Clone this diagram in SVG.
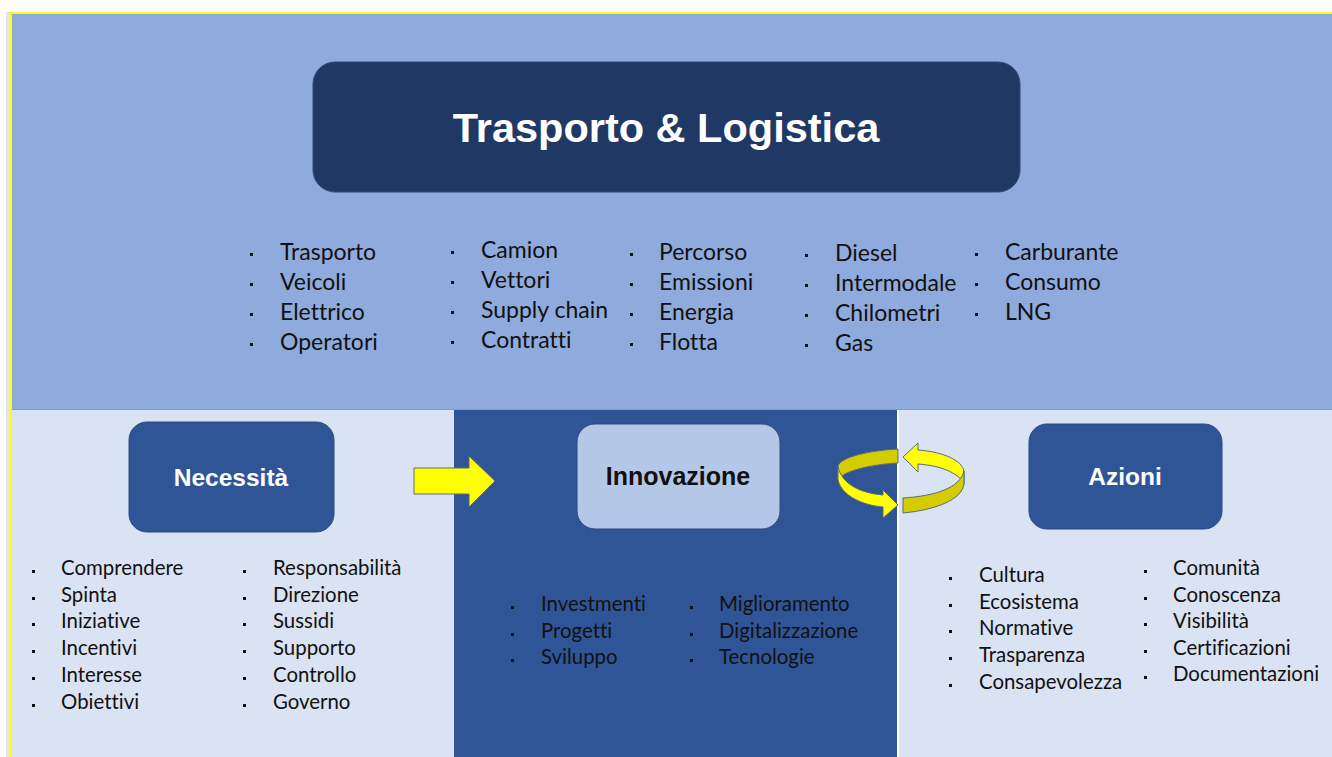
<svg xmlns="http://www.w3.org/2000/svg" width="1332" height="757" viewBox="0 0 1332 757">
<style>
.li{font-family:Lato,"Liberation Sans",sans-serif;font-size:20.4px;fill:#111;font-variant-ligatures:none}
.lt{font-family:Lato,"Liberation Sans",sans-serif;font-size:23px;fill:#111;font-variant-ligatures:none}
.hd{font-family:"Liberation Sans",Arial,sans-serif;font-weight:bold;text-anchor:middle}
.bx{stroke:#2a4a80;stroke-width:1}
.yb{fill:#ffff00;stroke:#5a6a7a;stroke-width:1}
.yd{fill:#d4cc00;stroke:#5a6a7a;stroke-width:1}
</style>
<defs>
<rect id="b" width="3" height="3" fill="#111"/>
</defs>
<rect width="1332" height="757" fill="#ffffff"/>
<rect x="6" y="12" width="4" height="745" fill="#e6e6e6"/>
<rect x="10" y="14" width="1322" height="396" fill="#8faadc"/>
<rect x="10" y="409" width="1322" height="1" fill="#7f9bd0"/>
<rect x="10" y="410" width="1322" height="347" fill="#dae3f3"/>
<rect x="454" y="410" width="444" height="347" fill="#2f5597"/>
<rect x="897" y="410" width="2" height="347" fill="#ffffff"/>
<rect x="10" y="12" width="1322" height="2" fill="#ffff00"/>
<rect x="10" y="12" width="2" height="745" fill="#ffff00"/>

<g id="title">
<rect x="313" y="62" width="707" height="130" rx="22" fill="#203864" stroke="#2a4a80"/>
<text class="hd" x="666" y="142" font-size="41.5" fill="#ffffff">Trasporto &amp; Logistica</text>
</g>

<g id="top-list">
<use href="#b" x="250" y="253"/><use href="#b" x="250" y="283"/><use href="#b" x="250" y="313"/><use href="#b" x="250" y="343"/>
<text class="lt" x="280" y="260">Trasporto</text><text class="lt" x="280" y="290">Veicoli</text><text class="lt" x="280" y="320">Elettrico</text><text class="lt" x="280" y="350">Operatori</text>
<use href="#b" x="451" y="251"/><use href="#b" x="451" y="281"/><use href="#b" x="451" y="311"/><use href="#b" x="451" y="341"/>
<text class="lt" x="481" y="258">Camion</text><text class="lt" x="481" y="288">Vettori</text><text class="lt" x="481" y="318">Supply chain</text><text class="lt" x="481" y="348">Contratti</text>
<use href="#b" x="630" y="253"/><use href="#b" x="630" y="283"/><use href="#b" x="630" y="313"/><use href="#b" x="630" y="343"/>
<text class="lt" x="659" y="260">Percorso</text><text class="lt" x="659" y="290">Emissioni</text><text class="lt" x="659" y="320">Energia</text><text class="lt" x="659" y="350">Flotta</text>
<use href="#b" x="805" y="254"/><use href="#b" x="805" y="284"/><use href="#b" x="805" y="314"/><use href="#b" x="805" y="344"/>
<text class="lt" x="835" y="261">Diesel</text><text class="lt" x="835" y="291">Intermodale</text><text class="lt" x="835" y="321">Chilometri</text><text class="lt" x="835" y="351">Gas</text>
<use href="#b" x="975" y="253"/><use href="#b" x="975" y="283"/><use href="#b" x="975" y="313"/>
<text class="lt" x="1005" y="260">Carburante</text><text class="lt" x="1005" y="290">Consumo</text><text class="lt" x="1005" y="320">LNG</text>
</g>

<g id="necessita">
<rect class="bx" x="129" y="422" width="205" height="110" rx="18" fill="#2f5597"/>
<text class="hd" x="231" y="486" font-size="24.5" fill="#ffffff">Necessità</text>
</g>
<g id="necessita-list">
<use href="#b" x="32" y="570"/><use href="#b" x="32" y="597"/><use href="#b" x="32" y="623"/><use href="#b" x="32" y="650"/><use href="#b" x="32" y="677"/><use href="#b" x="32" y="704"/>
<text class="li" x="61" y="575">Comprendere</text><text class="li" x="61" y="602">Spinta</text><text class="li" x="61" y="628">Iniziative</text><text class="li" x="61" y="655">Incentivi</text><text class="li" x="61" y="682">Interesse</text><text class="li" x="61" y="709">Obiettivi</text>
<use href="#b" x="243" y="570"/><use href="#b" x="243" y="597"/><use href="#b" x="243" y="623"/><use href="#b" x="243" y="650"/><use href="#b" x="243" y="677"/><use href="#b" x="243" y="704"/>
<text class="li" x="273" y="575">Responsabilità</text><text class="li" x="273" y="602">Direzione</text><text class="li" x="273" y="628">Sussidi</text><text class="li" x="273" y="655">Supporto</text><text class="li" x="273" y="682">Controllo</text><text class="li" x="273" y="709">Governo</text>
</g>

<g id="innovazione">
<rect class="bx" x="577" y="424" width="203" height="105" rx="18" fill="#b4c7e7"/>
<text class="hd" x="678" y="485" font-size="25" fill="#111111">Innovazione</text>
</g>
<g id="innovazione-list">
<use href="#b" x="511" y="606"/><use href="#b" x="511" y="633"/><use href="#b" x="511" y="659"/>
<text class="li" x="541" y="611">Investmenti</text><text class="li" x="541" y="638">Progetti</text><text class="li" x="541" y="664">Sviluppo</text>
<use href="#b" x="690" y="606"/><use href="#b" x="690" y="633"/><use href="#b" x="690" y="659"/>
<text class="li" x="719" y="611">Miglioramento</text><text class="li" x="719" y="638">Digitalizzazione</text><text class="li" x="719" y="664">Tecnologie</text>
</g>

<g id="azioni">
<rect class="bx" x="1029" y="424" width="193" height="105" rx="18" fill="#2f5597"/>
<text class="hd" x="1125" y="485" font-size="24.5" fill="#ffffff">Azioni</text>
</g>
<g id="azioni-list">
<use href="#b" x="949" y="577"/><use href="#b" x="949" y="604"/><use href="#b" x="949" y="630"/><use href="#b" x="949" y="657"/><use href="#b" x="949" y="684"/>
<text class="li" x="979" y="582">Cultura</text><text class="li" x="979" y="609">Ecosistema</text><text class="li" x="979" y="635">Normative</text><text class="li" x="979" y="662">Trasparenza</text><text class="li" x="979" y="689">Consapevolezza</text>
<use href="#b" x="1144" y="570"/><use href="#b" x="1144" y="597"/><use href="#b" x="1144" y="623"/><use href="#b" x="1144" y="650"/><use href="#b" x="1144" y="676"/>
<text class="li" x="1173" y="575">Comunità</text><text class="li" x="1173" y="602">Conoscenza</text><text class="li" x="1173" y="628">Visibilità</text><text class="li" x="1173" y="655">Certificazioni</text><text class="li" x="1173" y="681">Documentazioni</text>
</g>

<g id="connectors">
<path class="yb" d="M414,468 L469,468 L469,456 L495,481 L469,507 L469,494 L414,494 Z"/>
<path class="yd" d="M898,449 C862,451 838,459 838,467 L838,480 C842,472 866,465 898,463 Z"/>
<path class="yb" d="M838,467 L838,480 C842,496 862,505 883,507 L883,518 L898,505 L883,490 L883,495 C860,493 842,484 838,467 Z"/>
<path class="yb" d="M903,457 L918,443 L918,450 C945,452 962,461 964,471 L964,484 C960,475 945,466 918,464 L918,472 Z"/>
<path class="yd" d="M964,471 L964,484 C962,500 935,510 903,513 L903,498 C935,496 960,488 964,471 Z"/>
</g>
</svg>
